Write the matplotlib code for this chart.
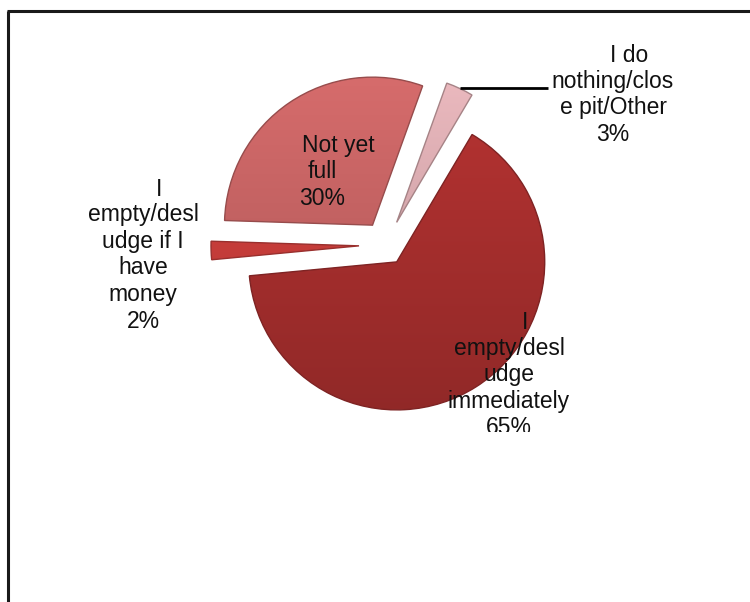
import matplotlib
matplotlib.use("Agg")
import matplotlib.pyplot as plt
import numpy as np
from matplotlib.lines import Line2D
from matplotlib.transforms import Bbox
from matplotlib.colors import to_rgb

plt.rcParams['font.family'] = ['Liberation Sans', 'DejaVu Sans']

# Survey answers (wrapped as they appear on the chart) and their shares
labels = [
    "I\nempty/desl\nudge\nimmediately",
    "I\nempty/desl\nudge if I\nhave\nmoney",
    "Not yet\nfull",
    "I do\nnothing/clos\ne pit/Other",
]
shares = [65, 2, 30, 3]

# Styling
colors = ["#A82F2E", "#CC3F3C", "#C96565", "#DDAEB3"]
explode_px = [20, 27, 24, 25]
R = 148.0                 # pie radius in pixels
CX, CY = 386.0, 245.0     # pie centre in pixel coords (y measured from the top)
W, H = 750, 602
LINE_H = 26               # label line height in pixels

fig = plt.figure(figsize=(W / 100, H / 100), dpi=100)
ax = fig.add_axes([0, 0, 1, 1])


def px(x, y):
    """Pixel position (y from top) -> data coords of the pie axes."""
    return (x - CX) / R, (CY - y) / R


wedges, _ = ax.pie(
    shares,
    startangle=59.4,
    counterclock=False,
    explode=[e / R for e in explode_px],
    radius=1.0,
    colors=colors,
    wedgeprops=dict(linewidth=1.0),
)
ax.axis("off")

# shaded fill for each wedge: lighter at the top, darker toward the bottom
for w, c in zip(wedges, colors):
    base = np.array(to_rgb(c))
    cx, cy = w.center
    grad = np.linspace(1.07, 0.86, 256)[:, None]
    img = np.clip(base[None, None, :] * grad[:, :, None], 0, 1)
    img = np.repeat(img, 2, axis=1)
    im = ax.imshow(img, extent=(cx - 1.05, cx + 1.05, cy - 1.05, cy + 1.05),
                   origin="upper", aspect="auto", zorder=w.get_zorder() + 0.1,
                   interpolation="bilinear")
    im.set_clip_path(w)
    w.set_edgecolor(tuple(base * 0.75))
    w.set_zorder(w.get_zorder() + 0.2)
    w.set_facecolor("none")
ax.set_xlim(-CX / R, (W - CX) / R)
ax.set_ylim(-(H - CY) / R, CY / R)

# data labels; the first wrapped line sits a little to the right
label_pos = [(509, 375), (143, 255), (322, 172), (613, 95)]
first_shift = 16
clip = Bbox([[0, H - 432], [W, H]])
for lab, val, (lx, ly) in zip(labels, shares, label_pos):
    lines = f"{lab}\n{val}%".split("\n")
    n = len(lines)
    top_y = ly - (n - 1) * LINE_H / 2
    parts = [(lines[0], lx + first_shift, top_y),
             ("\n".join(lines[1:]), lx, ly + LINE_H / 2)]
    for s, x, y in parts:
        t = ax.text(*px(x, y), s, ha="center", va="center",
                    fontsize=16.5, color="#111111", linespacing=1.2, zorder=10)
        t.set_clip_box(clip)
        t.set_clip_on(True)

# leader line from the small wedge to its label
w3 = wedges[3]
th = np.deg2rad(0.5 * (w3.theta1 + w3.theta2))
x0 = w3.center[0] + np.cos(th) * w3.r
y0 = w3.center[1] + np.sin(th) * w3.r
x1, _ = px(548, 0)
ax.plot([x0, x1], [y0, y0], color="black", lw=2, solid_capstyle="butt", zorder=10)

# chart frame (top and left edges)
fig.add_artist(Line2D([7.5 / W, 7.5 / W], [0, (H - 11) / H], color="#1a1a1a",
                      lw=2.2, solid_capstyle="butt"))
fig.add_artist(Line2D([6.5 / W, 1], [(H - 11) / H, (H - 11) / H], color="#1a1a1a",
                      lw=2.2, solid_capstyle="butt"))

fig.savefig("out.png", dpi=100)
